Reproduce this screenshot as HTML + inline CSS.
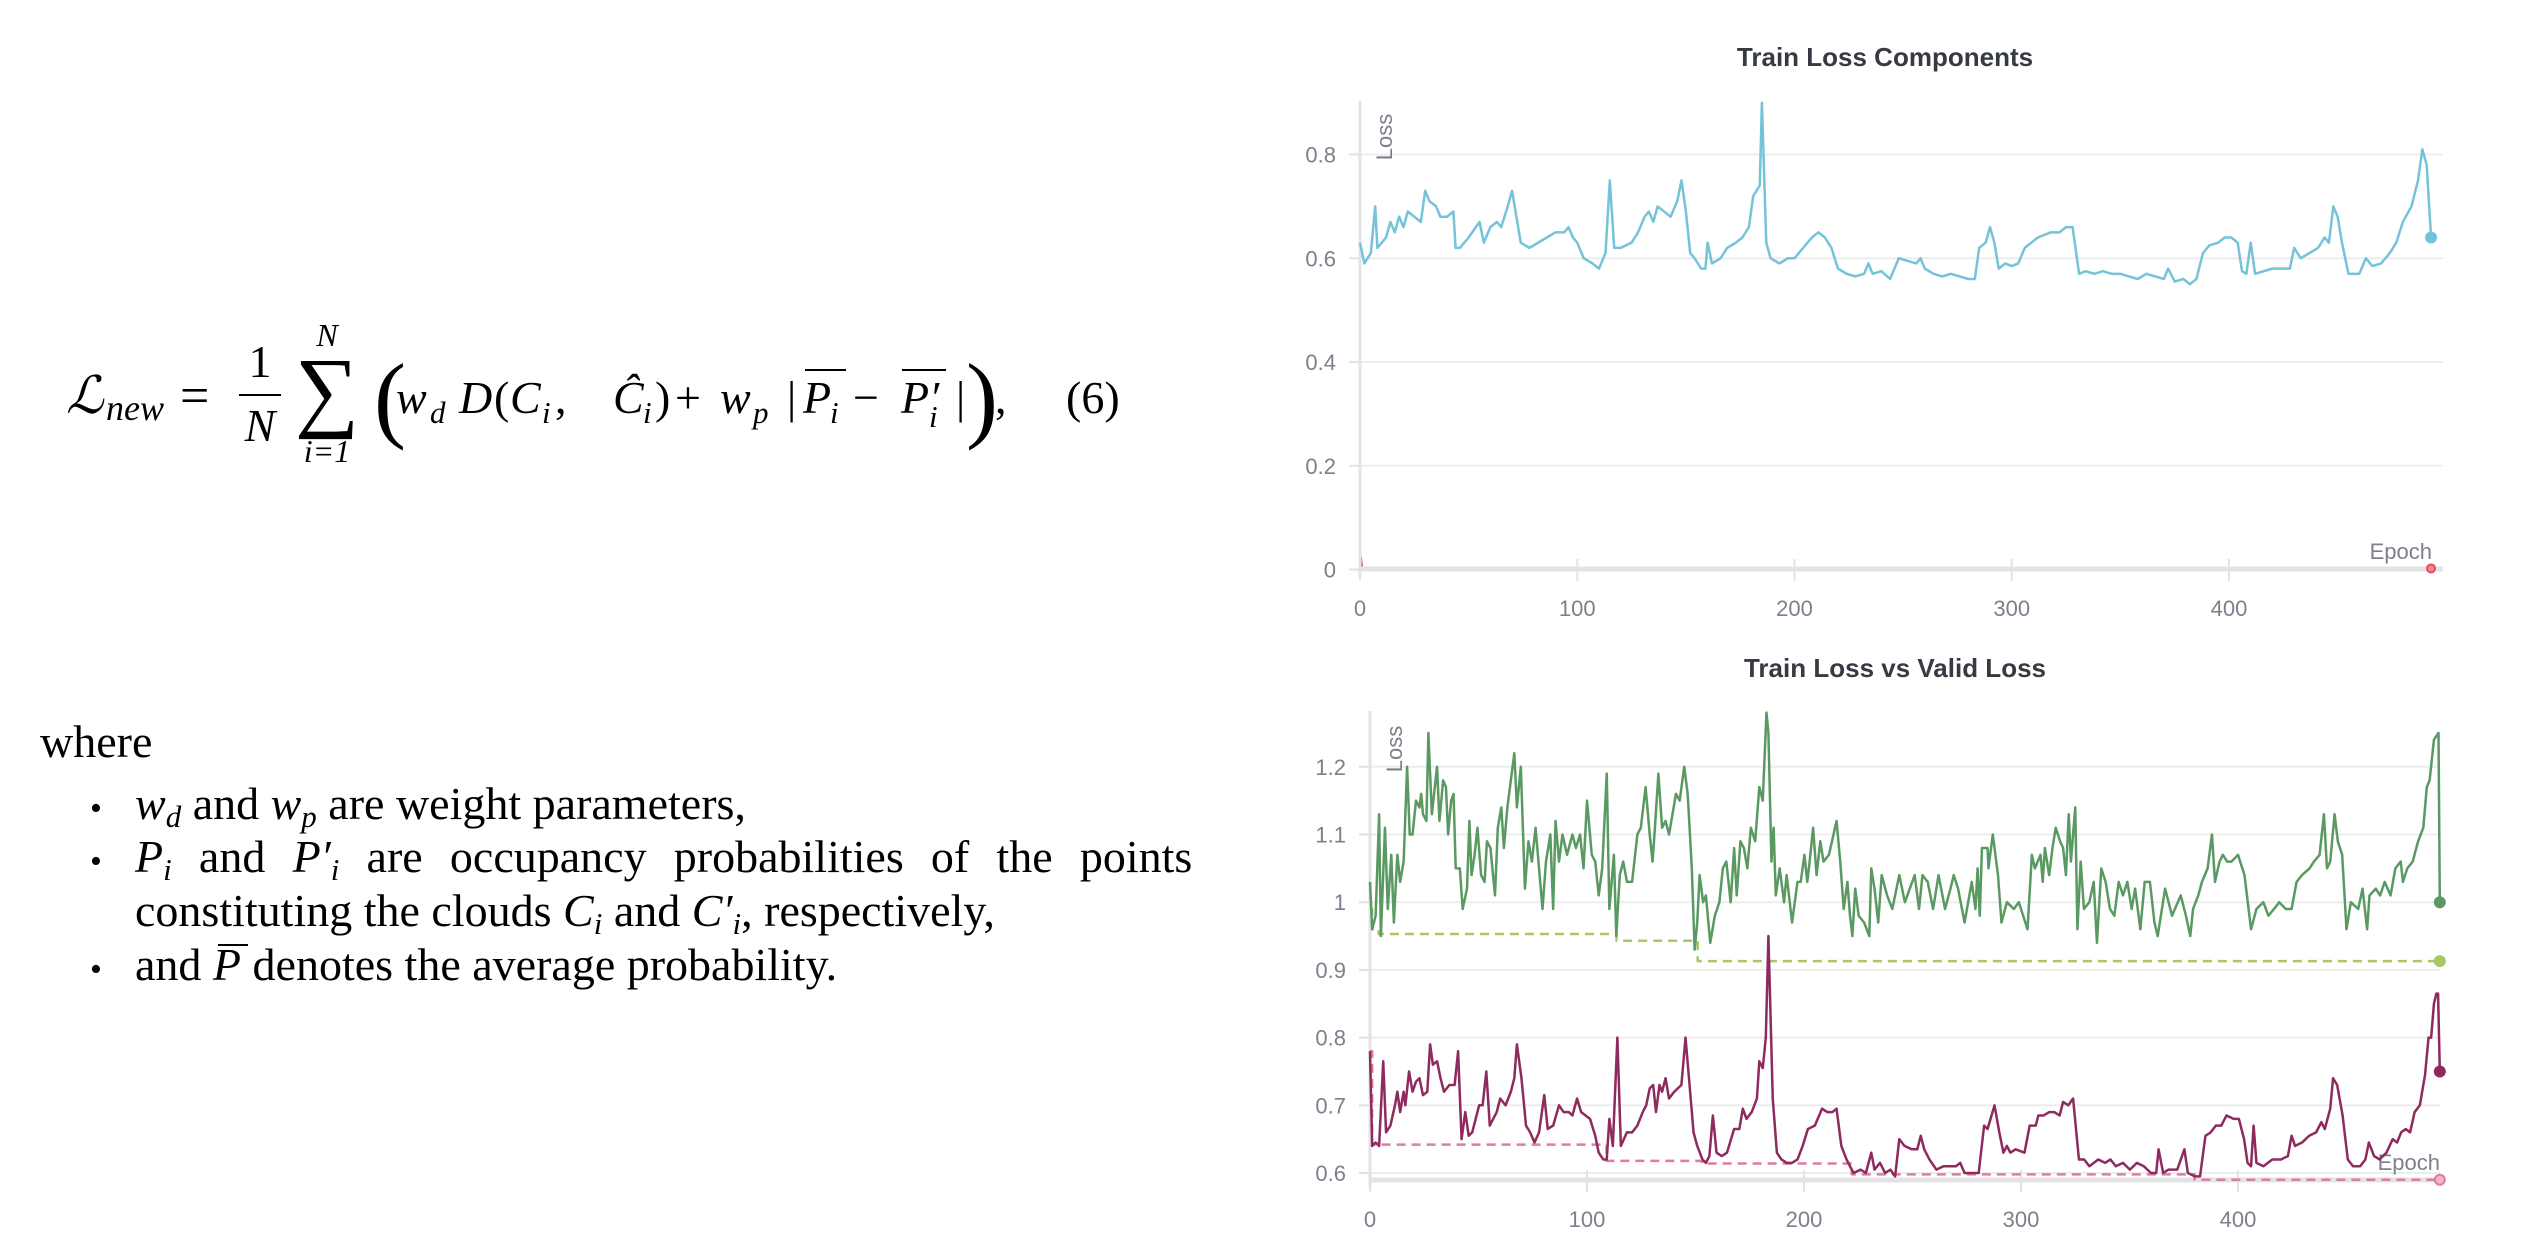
<!DOCTYPE html>
<html><head><meta charset="utf-8"><title>Loss formula and charts</title>
<style>
html,body{margin:0;padding:0;background:#fff;}
#root{position:relative;width:2530px;height:1250px;overflow:hidden;background:#fff;}
svg{position:absolute;left:0;top:0;}
.tick{font-family:"Liberation Sans",sans-serif;font-size:22px;fill:#7b808c;}
.ttl{font-family:"Liberation Sans",sans-serif;font-size:26px;font-weight:bold;fill:#363a42;}
.m{font-family:"Liberation Serif",serif;fill:#000;}
</style></head>
<body>
<div id="root">
<svg id="doc" width="2530" height="1250">
  <g class="m">
    <text x="66" y="413" font-size="52" font-style="italic">ℒ</text>
    <text x="106" y="420" font-size="36" font-style="italic">new</text>
    <text x="180" y="413" font-size="52">=</text>
    <text x="260" y="377" font-size="46" text-anchor="middle">1</text>
    <line x1="239" y1="395" x2="281" y2="395" stroke="#000" stroke-width="2"/>
    <text x="260" y="441" font-size="46" font-style="italic" text-anchor="middle">N</text>
    <text x="327" y="346" font-size="32" font-style="italic" text-anchor="middle">N</text>
    <text x="327" y="420" font-size="90" text-anchor="middle">∑</text>
    <text x="327" y="462" font-size="32" font-style="italic" text-anchor="middle">i=1</text>
    <text x="374" y="430" font-size="96">(</text>
    <text y="413" font-size="46"><tspan x="396" font-style="italic">w</tspan><tspan x="430" font-size="31" font-style="italic" dy="10">d</tspan><tspan dy="-10" x="459" font-style="italic">D</tspan><tspan x="494">(</tspan><tspan x="510" font-style="italic">C</tspan><tspan x="542" font-size="31" font-style="italic" dy="10">i</tspan><tspan x="555" dy="-10">,</tspan><tspan x="613" font-style="italic">Ĉ</tspan><tspan x="643" font-size="31" font-style="italic" dy="10">i</tspan><tspan x="655" dy="-10">)</tspan><tspan x="675">+</tspan><tspan x="720" font-style="italic">w</tspan><tspan x="753" font-size="31" font-style="italic" dy="10">p</tspan><tspan dy="-10" x="787">|</tspan><tspan x="803" font-style="italic">P</tspan><tspan x="830" font-size="31" font-style="italic" dy="10">i</tspan><tspan dy="-10" x="853">−</tspan><tspan x="901" font-style="italic">P′</tspan><tspan x="929" font-size="31" font-style="italic" dy="14">i</tspan><tspan dy="-14" x="956">|</tspan></text>
    <line x1="805" y1="370" x2="846" y2="370" stroke="#000" stroke-width="2"/>
    <line x1="902" y1="370" x2="946" y2="370" stroke="#000" stroke-width="2"/>
    <text x="966" y="430" font-size="96">)</text>
    <text x="995" y="413" font-size="46">,</text>
    <text x="1066" y="413" font-size="46">(6)</text>
  </g>
  <g class="m" font-size="46">
    <text x="40" y="757">where</text>
    <text x="90" y="819" font-size="34">•</text>
    <text x="90" y="872" font-size="34">•</text>
    <text x="90" y="980" font-size="34">•</text>
    <text x="135" y="819"><tspan font-style="italic">w</tspan><tspan font-size="31" font-style="italic" dy="8">d</tspan><tspan dy="-8"> and </tspan><tspan font-style="italic">w</tspan><tspan font-size="31" font-style="italic" dy="8">p</tspan><tspan dy="-8"> are weight parameters,</tspan></text>
    <text id="justLine" x="135" y="872"><tspan font-style="italic">P</tspan><tspan font-size="31" font-style="italic" dy="8">i</tspan><tspan dy="-8"> and </tspan><tspan font-style="italic">P′</tspan><tspan font-size="31" font-style="italic" dy="8">i</tspan><tspan dy="-8"> are occupancy probabilities of the points</tspan></text>
    <text x="135" y="926">constituting the clouds <tspan font-style="italic">C</tspan><tspan font-size="31" font-style="italic" dy="8">i</tspan><tspan dy="-8"> and </tspan><tspan font-style="italic">C′</tspan><tspan font-size="31" font-style="italic" dy="8">i</tspan><tspan dy="-8">, respectively,</tspan></text>
    <text x="135" y="980">and <tspan font-style="italic">P</tspan> denotes the average probability.</text>
    <line x1="218" y1="945" x2="248" y2="945" stroke="#000" stroke-width="2"/>
  </g>
  <g id="chart1"></g>
  <g id="chart2"></g>
</svg>
</div>
<script>
// ---------- Chart 1: Train Loss Components ----------
const c1Epochs = [0,2,5,7,8,12,14,16,18,20,22,25,28,30,32,35,37,40,43,44,46,50,55,57,60,63,65,68,70,72,74,78,82,86,90,94,96,98,100,103,107,110,113,115,117,120,125,128,131,133,135,137,140,143,146,148,150,152,154,157,159,160,162,166,169,173,176,179,181,184,185,187,189,193,197,200,204,208,211,214,217,220,224,228,232,234,236,240,244,248,252,256,258,260,264,268,272,276,280,283,285,288,290,292,294,297,300,303,306,309,312,315,318,322,325,328,331,334,338,342,346,350,354,358,362,366,370,372,375,379,382,385,388,391,395,398,401,404,406,408,410,412,416,420,425,428,430,433,437,441,444,446,448,450,452,455,460,463,466,470,474,477,480,484,487,489,491,493];
const c1Main = [0.63,0.59,0.61,0.70,0.62,0.64,0.67,0.65,0.68,0.66,0.69,0.68,0.67,0.73,0.71,0.70,0.68,0.68,0.69,0.62,0.62,0.64,0.67,0.63,0.66,0.67,0.66,0.70,0.73,0.68,0.63,0.62,0.63,0.64,0.65,0.65,0.66,0.64,0.63,0.60,0.59,0.58,0.61,0.75,0.62,0.62,0.63,0.65,0.68,0.69,0.67,0.70,0.69,0.68,0.71,0.75,0.69,0.61,0.60,0.58,0.58,0.63,0.59,0.60,0.62,0.63,0.64,0.66,0.72,0.74,0.90,0.63,0.60,0.59,0.60,0.60,0.62,0.64,0.65,0.64,0.62,0.58,0.57,0.565,0.57,0.59,0.57,0.575,0.56,0.60,0.595,0.59,0.60,0.58,0.57,0.565,0.57,0.565,0.56,0.56,0.62,0.63,0.66,0.63,0.58,0.59,0.585,0.59,0.62,0.63,0.64,0.645,0.65,0.65,0.66,0.66,0.57,0.575,0.57,0.575,0.57,0.57,0.565,0.56,0.57,0.565,0.56,0.58,0.555,0.56,0.55,0.56,0.61,0.625,0.63,0.64,0.64,0.63,0.575,0.57,0.63,0.57,0.575,0.58,0.58,0.58,0.62,0.60,0.61,0.62,0.64,0.63,0.70,0.68,0.63,0.57,0.57,0.60,0.585,0.59,0.61,0.63,0.67,0.70,0.75,0.81,0.78,0.64];
const c1MinorEpochs = [0,1,2,493];
const c1Minor = [0.035,0.004,0.002,0.002];
const c1YTicks = [0,0.2,0.4,0.6,0.8];
const c1YLabels = ["0","0.2","0.4","0.6","0.8"];
const c1XTicks = [0,100,200,300,400];
const c1XLabels = ["0","100","200","300","400"];

// ---------- Chart 2: Train Loss vs Valid Loss ----------
const c2TrainEpochs = [0,1,2.6,4.2,5,6.9,8.2,9.8,11,12.6,13.9,15.5,17.1,18.3,19.6,21.2,22.8,23.6,24.4,26,26.9,28.5,30.9,32,33.7,35,36,37.4,38.5,39.5,41.4,42.7,44.7,45.8,46.8,48.2,49.5,51.2,52.8,53.9,55.5,57.6,58.9,60.5,61.7,63.3,64.9,66.5,67.7,69.5,71.4,73,74.6,76.3,77.9,79.5,81.1,83.1,84.4,85.5,87.1,88.7,90.8,93.3,94.9,96.8,98.4,100,102.2,103.8,105.4,107,109.1,110.3,112.4,113.5,115.1,116.7,118.4,120.8,123.2,124.8,127,128.9,130.2,131.3,132.9,134.6,136.2,137.8,139.4,141,142.7,144.8,146.4,148.3,149.6,150.8,151.9,153.5,154.8,156.8,158.9,161,162.6,164.2,166.2,167.8,169,170.7,172.3,173.9,175.5,177.5,179.4,181,182.7,183.6,185,186,187,188.8,190.8,192,194.5,197,198.5,200.2,201.5,202.6,204.2,205.8,207.5,209,211.5,215,216.7,218.3,220,221.2,222.3,223.6,225.2,227.7,230.1,231,232.5,234.2,235.8,238.3,240.7,243.9,246.5,251,253,254.6,257,259.5,262,265,267.5,269,271,274,277.3,279,280,281,282,284.6,285,287,289.4,291,293.5,296.7,299,301,303,305,306.4,309,310,311,313,314.5,316,318,319.4,320.7,322,323,325,326,327.5,329,331.5,333.5,335,337,339,341,343,345,347,349,351,352.6,355,357,359.4,361.5,363,366.4,369.6,373.6,376,378,379.3,381.7,383.4,386,388,389.4,391.5,393,395,397,400,403,406,408.5,411.7,414,416.6,419,422,424.7,427,429.5,433,435,437.6,439.6,441,442.5,444.5,446,448,450,452,455.4,457.4,459.5,460.6,463.5,465.5,467.6,470.3,472.5,475,476,478,480.5,483,485.4,487,488.3,490.3,492.4,493];
const c2Train = [1.03,0.96,0.98,1.13,0.95,1.11,0.99,1.07,0.97,1.07,1.03,1.06,1.20,1.10,1.10,1.15,1.14,1.16,1.13,1.12,1.25,1.13,1.20,1.12,1.18,1.17,1.10,1.15,1.16,1.05,1.05,0.99,1.02,1.12,1.04,1.07,1.11,1.04,1.03,1.09,1.08,1.01,1.11,1.14,1.08,1.14,1.18,1.22,1.14,1.20,1.02,1.09,1.06,1.11,1.05,0.99,1.06,1.10,0.99,1.12,1.06,1.10,1.07,1.10,1.08,1.10,1.05,1.15,1.07,1.06,1.01,1.05,1.19,0.99,1.07,0.95,1.04,1.06,1.03,1.03,1.10,1.11,1.17,1.10,1.06,1.11,1.19,1.11,1.12,1.10,1.13,1.16,1.15,1.20,1.16,1.05,0.93,0.97,1.04,1.00,1.01,0.94,0.98,1.00,1.05,1.06,1.00,1.08,1.01,1.09,1.08,1.05,1.11,1.09,1.17,1.15,1.28,1.25,1.06,1.11,1.01,1.05,1.00,1.04,0.97,1.03,1.03,1.07,1.03,1.06,1.11,1.04,1.09,1.06,1.07,1.12,1.06,0.99,1.03,0.98,0.95,1.02,0.98,0.97,0.95,1.05,1.02,0.97,1.04,1.01,0.99,1.04,1.00,1.04,0.99,1.04,1.03,0.99,1.04,0.99,1.02,1.04,1.02,0.97,1.03,0.99,1.05,0.98,1.08,1.08,1.05,1.10,1.04,0.97,1.00,0.99,1.00,0.98,0.96,1.07,1.05,1.07,1.03,1.08,1.04,1.08,1.11,1.09,1.08,1.04,1.13,1.06,1.14,0.96,1.06,0.99,1.00,1.03,0.94,1.05,1.03,0.99,0.98,1.03,1.01,1.03,0.99,1.02,0.96,1.03,1.03,0.97,0.95,1.02,0.98,1.01,0.98,0.95,0.99,1.01,1.03,1.05,1.10,1.03,1.06,1.07,1.06,1.06,1.07,1.04,0.96,0.99,1.00,0.98,0.99,1.00,0.99,0.99,1.03,1.04,1.05,1.06,1.07,1.13,1.05,1.06,1.13,1.09,1.07,0.96,1.00,0.99,1.02,0.96,1.01,1.02,1.01,1.03,1.01,1.05,1.06,1.03,1.05,1.06,1.09,1.11,1.17,1.18,1.24,1.25,1.00];
const c2TrainMinEpochs = [0,1,4,113.5,113.6,149.6,151,493];
const c2TrainMin = [0.99,0.96,0.953,0.953,0.943,0.943,0.913,0.913];
const c2ValidEpochs = [0,1,2.6,4.2,6.1,7.4,9.4,11.5,12.6,13.9,15.5,16.3,18,19.6,21.2,22.8,24.4,26.4,27.7,29,30.9,32.5,34.1,36.6,39,40.6,42.2,43.9,45.5,47.1,48.7,50.3,51.9,53.6,55.2,56.8,58.4,60,62.5,64.9,66.5,67.7,69.8,71.9,73.8,75.8,77.9,80.3,81.9,84.4,87.1,89.2,91.6,93.3,95.4,97.3,101.4,103.8,105.4,107.5,109.1,110.3,111.9,114,115.6,118.4,120.8,123.2,125.7,127.3,128.9,130.5,131.8,133.4,134.6,136.2,137.8,140.2,143.5,145.4,147,149.1,150.8,153.2,154.8,156.4,158,159.7,162.1,164.5,167.8,170.2,171.8,173.5,175.9,178.3,179.4,181,182.4,183.6,185.6,187.5,189.6,192,194.5,197,199.4,201.8,205,208.3,210.7,213.1,215,217.2,219.6,222.8,226.1,228.5,231,232.5,235,237.4,239.8,242,243.9,246.3,249.7,252.2,253.8,255.4,257.8,261,264.3,267.5,270,272,274,277.3,280.5,283,284.6,287.8,290,291.9,293.5,295.1,297.5,301.6,304,306.8,308,310.5,313,315.3,317.8,319.4,321.8,324,326.7,329.1,331.5,335.6,338.8,341.2,343.7,347,350.2,353.4,356.6,359.9,362.3,363.4,365.5,368,372,375.3,376.9,380.1,382.5,385,387.4,389.8,392.3,394.7,398,400.4,402.8,404.4,406,407.2,408.5,411.7,415.8,419.8,423,424.7,426.3,429.5,432.8,436,438.4,440,442.5,443.8,445.7,448.2,450.6,453,456.3,458.7,460.3,462.7,465.2,468.4,471.3,473.3,475.2,477.3,479.3,481.4,483.8,486.2,487.8,489,490.3,491.4,492.2,493];
const c2Valid = [0.78,0.64,0.645,0.64,0.765,0.66,0.67,0.70,0.72,0.69,0.72,0.70,0.75,0.72,0.735,0.74,0.715,0.72,0.79,0.76,0.765,0.74,0.72,0.73,0.73,0.78,0.65,0.69,0.655,0.66,0.68,0.70,0.70,0.75,0.67,0.68,0.69,0.71,0.70,0.72,0.74,0.79,0.74,0.67,0.66,0.645,0.66,0.715,0.665,0.67,0.70,0.69,0.69,0.685,0.71,0.69,0.68,0.655,0.63,0.62,0.62,0.68,0.64,0.80,0.64,0.66,0.66,0.67,0.69,0.70,0.725,0.73,0.69,0.73,0.72,0.74,0.71,0.72,0.73,0.80,0.74,0.66,0.64,0.62,0.615,0.625,0.685,0.63,0.625,0.63,0.665,0.665,0.695,0.68,0.69,0.71,0.765,0.755,0.80,0.95,0.71,0.63,0.62,0.615,0.615,0.62,0.64,0.665,0.67,0.695,0.69,0.69,0.695,0.64,0.62,0.60,0.605,0.60,0.63,0.605,0.615,0.60,0.605,0.595,0.65,0.64,0.635,0.635,0.655,0.635,0.62,0.605,0.61,0.61,0.61,0.615,0.60,0.60,0.60,0.67,0.665,0.70,0.66,0.63,0.64,0.63,0.635,0.63,0.67,0.67,0.685,0.685,0.69,0.69,0.685,0.705,0.70,0.71,0.62,0.62,0.61,0.62,0.615,0.62,0.61,0.615,0.605,0.615,0.61,0.60,0.60,0.635,0.60,0.605,0.605,0.635,0.60,0.595,0.595,0.655,0.66,0.67,0.67,0.685,0.68,0.68,0.65,0.615,0.61,0.67,0.615,0.61,0.62,0.62,0.625,0.655,0.64,0.645,0.655,0.66,0.675,0.665,0.695,0.74,0.73,0.685,0.62,0.61,0.61,0.62,0.645,0.625,0.62,0.63,0.65,0.645,0.66,0.665,0.66,0.69,0.70,0.745,0.80,0.80,0.85,0.865,0.865,0.75];
const c2ValidMinEpochs = [0,1,108,109,152,153,220,222,379,380,493];
const c2ValidMin = [0.78,0.642,0.642,0.618,0.618,0.614,0.614,0.598,0.598,0.59,0.59];
const c2YTicks = [0.6,0.7,0.8,0.9,1.0,1.1,1.2];
const c2YLabels = ["0.6","0.7","0.8","0.9","1","1.1","1.2"];
const c2XTicks = [0,100,200,300,400];
const c2XLabels = ["0","100","200","300","400"];

const NS = "http://www.w3.org/2000/svg";
function mk(parent, tag, attrs, text) {
  const el = document.createElementNS(NS, tag);
  for (const k in attrs) el.setAttribute(k, attrs[k]);
  if (text !== undefined) el.textContent = text;
  parent.appendChild(el);
  return el;
}

function drawSeries(g, s, X, Y) {
  let pts;
  if (s.step) {
    pts = [];
    s.e.forEach((e, i) => { if (i > 0) pts.push(X(e) + "," + Y(s.v[i - 1])); pts.push(X(e) + "," + Y(s.v[i])); });
  } else {
    pts = s.e.map((e, i) => X(e) + "," + Y(s.v[i]));
  }
  const attrs = {points: pts.join(" "), fill: "none", stroke: s.color, "stroke-width": s.w, "stroke-linejoin": "round"};
  if (s.dash) attrs["stroke-dasharray"] = s.dash;
  const pl = mk(g, "polyline", attrs);
  
  
}
function drawDot(g, s, X, Y) {
  const last = s.e.length - 1;
  const dot = mk(g, "circle", {cx: X(s.e[last]), cy: Y(s.v[last]), r: s.r, fill: s.dotFill || s.color, stroke: s.color, "stroke-width": 2});
  
  
}

function drawChart(g, cfg) {
  const X = e => cfg.x0 + e * cfg.xPer;
  const Y = v => cfg.yBase - (v - cfg.vBase) * cfg.yPer;

  const title = mk(g, "text", {x: cfg.titleX, y: cfg.titleY, "text-anchor": "middle", class: "ttl"}, cfg.title);
  
  

  cfg.yTicks.forEach((t, i) => {
    const gl = mk(g, "line", {x1: cfg.x0, x2: cfg.xEnd, y1: Y(t), y2: Y(t), stroke: "#ededed", "stroke-width": 2});
    
    
    const tm = mk(g, "line", {x1: cfg.x0 - 11, x2: cfg.x0, y1: Y(t), y2: Y(t), stroke: "#e2e2e2", "stroke-width": 2});
    
    
    const lb = mk(g, "text", {x: cfg.x0 - 24, y: Y(t) + 8, "text-anchor": "end", class: "tick"}, cfg.yLabels[i]);
    
    
  });

  cfg.series.filter(s => s.under).forEach(s => drawSeries(g, s, X, Y));

  const ya = mk(g, "line", {x1: cfg.x0, x2: cfg.x0, y1: cfg.yTop, y2: cfg.axisY + 8, stroke: "#e3e3e5", "stroke-width": 3});
  
  
  const xa = mk(g, "line", {x1: cfg.x0, x2: cfg.xEnd, y1: cfg.axisY, y2: cfg.axisY, stroke: "#e3e3e5", "stroke-width": 5});
  
  

  cfg.xTicks.forEach((t, i) => {
    const tm = mk(g, "line", {x1: X(t), x2: X(t), y1: cfg.axisY - 10, y2: cfg.axisY + 12, stroke: "#e3e3e5", "stroke-width": 2});
    
    
    const lb = mk(g, "text", {x: X(t), y: cfg.xLabelY, "text-anchor": "middle", class: "tick"}, cfg.xLabels[i]);
    
    
  });

  const yt = mk(g, "text", {x: 0, y: 0, class: "tick", transform: "translate(" + cfg.lossX + "," + cfg.lossY + ") rotate(-90)", "text-anchor": "middle"}, "Loss");
  
  
  const xt = mk(g, "text", {x: cfg.epochX, y: cfg.epochY, class: "tick", "text-anchor": "end"}, "Epoch");
  
  

  cfg.series.filter(s => !s.under).forEach(s => drawSeries(g, s, X, Y));
  cfg.series.forEach(s => drawDot(g, s, X, Y));
}

drawChart(document.getElementById("chart1"), {
  title: "Train Loss Components", titleX: 1885, titleY: 66,
  x0: 1360, xPer: 2.1725, xEnd: 2443,
  yBase: 569.5, vBase: 0, yPer: 518.75, yTop: 101, axisY: 569,
  xLabelY: 616, lossX: 1392, lossY: 137, epochX: 2432, epochY: 559,
  yTicks: c1YTicks, yLabels: c1YLabels, xTicks: c1XTicks, xLabels: c1XLabels,
  series: [
    {name: "loss-component-a-line", e: c1Epochs, v: c1Main, color: "#74c3d9", w: 2.5, r: 5},
    {name: "loss-component-b-line", e: c1MinorEpochs, v: c1Minor, color: "#e0505f", w: 2, r: 4, dotFill: "#f08a94", under: true}
  ]
});

drawChart(document.getElementById("chart2"), {
  title: "Train Loss vs Valid Loss", titleX: 1895, titleY: 677,
  x0: 1370, xPer: 2.17, xEnd: 2440,
  yBase: 1173, vBase: 0.6, yPer: 677, yTop: 711, axisY: 1180,
  xLabelY: 1227, lossX: 1402, lossY: 749, epochX: 2440, epochY: 1170,
  yTicks: c2YTicks, yLabels: c2YLabels, xTicks: c2XTicks, xLabels: c2XLabels,
  series: [
    {name: "train-loss-min-line", e: c2TrainMinEpochs, v: c2TrainMin, color: "#a8c866", w: 2.5, r: 5, step: true, dash: "9,6"},
    {name: "valid-loss-min-line", e: c2ValidMinEpochs, v: c2ValidMin, color: "#e07c9c", w: 2.5, r: 5, step: true, dash: "9,6", dotFill: "#f4b6c8"},
    {name: "train-loss-line", e: c2TrainEpochs, v: c2Train, color: "#5a9a62", w: 2.5, r: 5},
    {name: "valid-loss-line", e: c2ValidEpochs, v: c2Valid, color: "#8e2a5e", w: 2.5, r: 5}
  ]
});

// justify the second bullet line by widening word spacing
(function () {
  const t = document.getElementById("justLine");
  const target = 1073;
  const w = t.getComputedTextLength();
  const gaps = 9;
  if (w < target) t.setAttribute("word-spacing", ((target - w) / gaps).toFixed(1));
})();
</script>
</body></html>
